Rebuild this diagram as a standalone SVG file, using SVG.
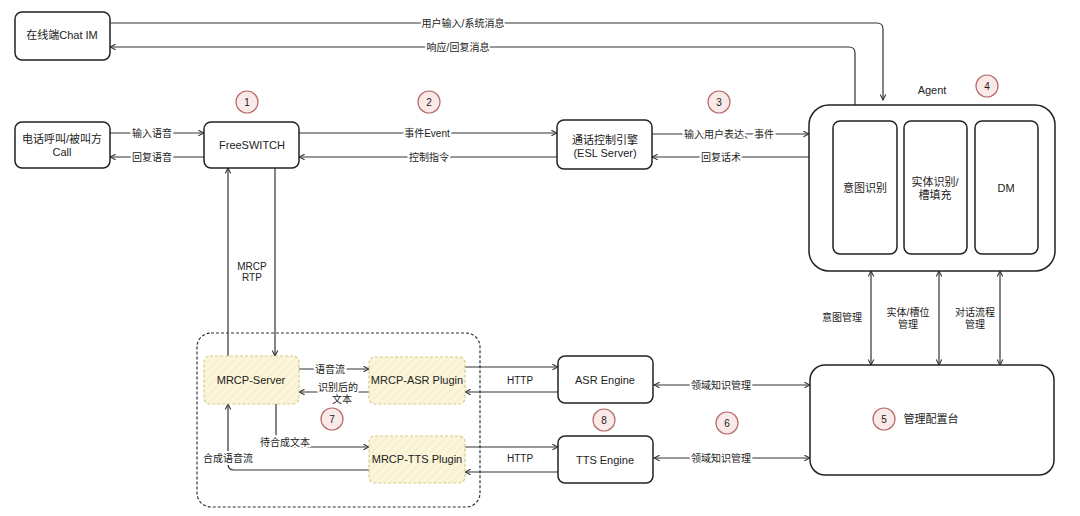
<svg xmlns="http://www.w3.org/2000/svg" width="1080" height="516" viewBox="0 0 1080 516">
<style>
text{font-family:"Liberation Sans","Noto Sans CJK SC",sans-serif;fill:#222;text-anchor:middle;dominant-baseline:central}
.t{font-size:11px}
.l{font-size:10px;stroke:#fff;stroke-width:4;paint-order:stroke;stroke-linejoin:round}
.box{fill:#fff;stroke:#222;stroke-width:1.5}
.mrcp{stroke:#d9c98a;stroke-width:1.2;stroke-dasharray:3 2}
.c{fill:none;stroke:#333;stroke-width:1.2}
.ar{marker-end:url(#a)}
.bi{marker-end:url(#a);marker-start:url(#s)}
.num circle{fill:#f9e9e9;stroke:#b86a6a;stroke-width:1.2}
.num text{font-size:10px}
</style>
<defs>
<marker id="a" viewBox="0 0 10 10" refX="9" refY="5" markerWidth="7" markerHeight="7" orient="auto" markerUnits="userSpaceOnUse"><path d="M1,1 L9,5 L1,9" fill="none" stroke="#333" stroke-width="1.5"/></marker>
<marker id="s" viewBox="0 0 10 10" refX="1" refY="5" markerWidth="7" markerHeight="7" orient="auto" markerUnits="userSpaceOnUse"><path d="M9,1 L1,5 L9,9" fill="none" stroke="#333" stroke-width="1.5"/></marker>
<pattern id="h" width="6" height="6" patternUnits="userSpaceOnUse" patternTransform="rotate(45)"><rect width="6" height="6" fill="#fbf5d9"/><line x1="0" y1="0" x2="0" y2="6" stroke="#efe3b8" stroke-width="1"/></pattern>
</defs>
<rect width="1080" height="516" fill="#fff"/>

<g id="mrcp-group"><rect x="197" y="333" width="283" height="174" rx="14" fill="none" stroke="#333" stroke-width="1.2" stroke-dasharray="3 2"/></g>

<g id="connectors">
<path class="c ar" d="M110,23 H877 Q883,23 883,29 V100"/>
<path class="c ar" d="M855,105 V53 Q855,47 849,47 H110"/>
<path class="c ar" d="M110,133 H204"/>
<path class="c ar" d="M204,157 H110"/>
<path class="c ar" d="M299,133 H557"/>
<path class="c ar" d="M557,157 H299"/>
<path class="c ar" d="M652,134 H809"/>
<path class="c ar" d="M809,157 H652"/>
<path class="c ar" d="M228,356 V168"/>
<path class="c ar" d="M275,168 V356"/>
<path class="c ar" d="M299,369 H369"/>
<path class="c ar" d="M369,392 H299"/>
<path class="c ar" d="M465,367 H558"/>
<path class="c ar" d="M558,392 H465"/>
<path class="c ar" d="M465,447 H558"/>
<path class="c ar" d="M558,472 H465"/>
<path class="c ar" d="M276,404 V447 H369"/>
<path class="c ar" d="M369,470 H234 Q228,470 228,464 V404"/>
<path class="c bi" d="M654,385 H810"/>
<path class="c bi" d="M654,458 H810"/>
<path class="c bi" d="M871,271 V365"/>
<path class="c bi" d="M939,271 V365"/>
<path class="c bi" d="M1000,271 V365"/>
<text class="l" x="463" y="23">用户输入/系统消息</text>
<text class="l" x="458" y="47">响应/回复消息</text>
<text class="l" x="152" y="133">输入语音</text>
<text class="l" x="152" y="157">回复语音</text>
<text class="l" x="427" y="133">事件Event</text>
<text class="l" x="429" y="157">控制指令</text>
<text class="l" x="729" y="134">输入用户表达、事件</text>
<text class="l" x="721" y="157">回复话术</text>
<text class="l" x="252" y="266">MRCP</text>
<text class="l" x="252" y="277">RTP</text>
<text class="l" x="330" y="369">语音流</text>
<text class="l" x="338" y="387">识别后的</text>
<text class="l" x="342" y="399">文本</text>
<text class="l" x="520" y="380">HTTP</text>
<text class="l" x="520" y="458">HTTP</text>
<text class="l" x="285" y="442">待合成文本</text>
<text class="l" x="228" y="458">合成语音流</text>
<text class="l" x="721" y="385">领域知识管理</text>
<text class="l" x="721" y="458">领域知识管理</text>
<text class="l" x="842" y="317">意图管理</text>
<text class="l" x="908" y="312">实体/槽位</text>
<text class="l" x="908" y="324">管理</text>
<text class="l" x="975" y="312">对话流程</text>
<text class="l" x="975" y="324">管理</text>
</g>

<g id="chat-im"><rect class="box" x="15" y="12" width="95" height="48" rx="7"/><text class="t" x="62" y="35">在线端Chat IM</text></g>
<g id="call"><rect class="box" x="15" y="122" width="95" height="46" rx="7"/><text class="t" x="62" y="139">电话呼叫/被叫方</text><text class="t" x="62" y="152">Call</text></g>
<g id="freeswitch"><rect class="box" x="204" y="122" width="95" height="46" rx="7"/><text class="t" x="252" y="145">FreeSWITCH</text></g>
<g id="esl"><rect class="box" x="557" y="120" width="95" height="49" rx="7"/><text class="t" x="605" y="140">通话控制引擎</text><text class="t" x="605" y="153">(ESL Server)</text></g>
<g id="agent">
<text class="t" x="932" y="90">Agent</text>
<rect class="box" x="809" y="105" width="246" height="166" rx="20"/>
<rect class="box" x="833" y="121" width="64" height="133" rx="7"/><text class="t" x="865" y="188">意图识别</text>
<rect class="box" x="904" y="121" width="63" height="133" rx="7"/><text class="t" x="935" y="182">实体识别/</text><text class="t" x="935" y="195">槽填充</text>
<rect class="box" x="975" y="121" width="63" height="133" rx="7"/><text class="t" x="1006" y="188">DM</text>
</g>
<g id="mgmt"><rect class="box" x="810" y="365" width="244" height="110" rx="15"/><text class="t" x="931" y="419">管理配置台</text></g>
<g id="mrcp-server"><rect class="mrcp" x="204" y="356" width="95" height="48" rx="6" fill="url(#h)"/><text class="t" x="251" y="380">MRCP-Server</text></g>
<g id="asr-plugin"><rect class="mrcp" x="369" y="357" width="96" height="47" rx="6" fill="url(#h)"/><text class="t" x="417" y="380">MRCP-ASR Plugin</text></g>
<g id="tts-plugin"><rect class="mrcp" x="369" y="436" width="96" height="47" rx="6" fill="url(#h)"/><text class="t" x="417" y="459">MRCP-TTS Plugin</text></g>
<g id="asr-engine"><rect class="box" x="558" y="356" width="95" height="47" rx="7"/><text class="t" x="605" y="380">ASR Engine</text></g>
<g id="tts-engine"><rect class="box" x="558" y="436" width="95" height="47" rx="7"/><text class="t" x="605" y="460">TTS Engine</text></g>

<g id="n1" class="num"><circle cx="247" cy="102" r="11"/><text x="247" y="102">1</text></g>
<g id="n2" class="num"><circle cx="429" cy="102" r="11"/><text x="429" y="102">2</text></g>
<g id="n3" class="num"><circle cx="719" cy="102" r="11"/><text x="719" y="102">3</text></g>
<g id="n4" class="num"><circle cx="987" cy="86" r="11"/><text x="987" y="86">4</text></g>
<g id="n5" class="num"><circle cx="884" cy="419" r="11"/><text x="884" y="419">5</text></g>
<g id="n6" class="num"><circle cx="727" cy="423" r="11"/><text x="727" y="423">6</text></g>
<g id="n7" class="num"><circle cx="332" cy="419" r="11"/><text x="332" y="419">7</text></g>
<g id="n8" class="num"><circle cx="604" cy="420" r="11"/><text x="604" y="420">8</text></g>
</svg>
